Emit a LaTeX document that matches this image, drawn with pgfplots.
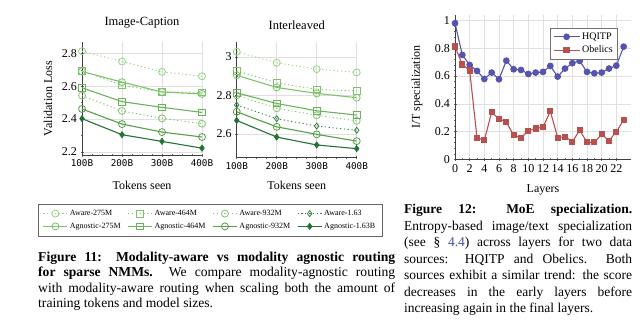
\documentclass[border=0pt]{standalone}
\usepackage{fontspec}
\setmainfont{Liberation Serif}
\setmonofont{DejaVu Sans Mono}
\usepackage{pgfplots}
\pgfplotsset{compat=1.18}
\definecolor{awA}{RGB}{150,210,130}
\definecolor{agA}{RGB}{125,195,105}
\definecolor{awB}{RGB}{125,195,105}
\definecolor{agB}{RGB}{105,180,90}
\definecolor{awC}{RGB}{130,195,110}
\definecolor{agC}{RGB}{85,160,70}
\definecolor{awD}{RGB}{55,130,70}
\definecolor{agD}{RGB}{35,115,55}
\definecolor{hq}{RGB}{85,85,175}
\definecolor{ob}{RGB}{185,80,80}
\definecolor{linkblue}{RGB}{70,80,150}
\pgfplotsset{
  base/.style={
    scale only axis,
    axis lines=left,
    axis line style={-, line width=0.5pt, black!75},
    grid=major,
    grid style={black!12, line width=0.4pt},
    tick style={black!60, line width=0.4pt},
    major tick length=3pt, minor tick length=2pt,
    tick label style={font=\fontsize{12}{12}\selectfont},
    label style={font=\fontsize{12}{12}\selectfont},
    title style={font=\fontsize{12.5}{12.5}\selectfont},
    /pgf/number format/assume math mode=true,
    clip=false,
  },
  loss/.style={
    base,
    xmin=100, xmax=400,
    xtick={100,200,300,400},
    xticklabels={100B,200B,300B,400B},
    xticklabel style={font=\ttfamily\fontsize{9.3}{9.3}\selectfont},
    minor x tick num=3, minor y tick num=1,
    width=120pt,
  },
  aw/.style={dash pattern=on 1.2pt off 2.6pt, line width=0.9pt, mark options={solid, line width=0.8pt}},
  ag/.style={solid, line width=1.1pt, mark options={solid, line width=0.8pt}},
}
\begin{document}
\begin{tikzpicture}
\path[use as bounding box] (0,0) rectangle (640pt,-333pt);

% ---------------- Image-Caption
\begin{axis}[loss,
  at={(82pt,-155pt)}, anchor=south west, height=113pt,
  ymin=2.18, ymax=2.87, ytick={2.2,2.4,2.6,2.8},
  title={Image-Caption}, ylabel={Validation Loss}, xlabel={Tokens seen},
  title style={at={(axis description cs:0.5,1.115)}, anchor=center},
  ylabel style={at={(axis description cs:-0.283,0.5)}, anchor=center},
  xlabel style={at={(axis description cs:0.5,-0.265)}, anchor=center},
]
\addplot[aw, color=awA, mark=o, mark size=3.5pt] coordinates {(100,2.814)(200,2.751)(300,2.688)(400,2.661)};
\addplot[aw, color=awB, mark=square, mark size=3.3pt] coordinates {(100,2.695)(200,2.606)(300,2.565)(400,2.563)};
\addplot[aw, color=awC, mark=o, mark size=3.5pt] coordinates {(100,2.543)(200,2.449)(300,2.404)(400,2.371)};
\addplot[ag, color=agA, mark=o, mark size=3.5pt] coordinates {(100,2.690)(200,2.625)(300,2.565)(400,2.553)};
\addplot[ag, color=agB, mark=square, mark size=3.3pt] coordinates {(100,2.590)(200,2.506)(300,2.471)(400,2.440)};
\addplot[ag, color=agC, mark=o, mark size=3.5pt] coordinates {(100,2.461)(200,2.369)(300,2.320)(400,2.290)};
\addplot[ag, color=agD, mark=diamond*, mark size=3pt] coordinates {(100,2.402)(200,2.304)(300,2.263)(400,2.222)};
\end{axis}

% ---------------- Interleaved
\begin{axis}[loss,
  at={(236.7pt,-157.7pt)}, anchor=south west, height=116pt,
  ymin=2.477, ymax=3.078, ytick={2.6,2.8,3},
  title={Interleaved}, xlabel={Tokens seen},
  title style={at={(axis description cs:0.5,1.092)}, anchor=center},
  xlabel style={at={(axis description cs:0.5,-0.235)}, anchor=center},
  legend columns=4,
  legend cell align=left,
  legend image code/.code={\draw[mark repeat=2,mark phase=2] plot coordinates {(0pt,0pt) (12pt,0pt) (24pt,0pt)};},
  legend style={at={(axis description cs:-0.2225,-0.537)}, anchor=center,
    font=\fontsize{8}{9}\selectfont, draw=black!60, line width=0.5pt,
    inner xsep=5pt, inner ysep=4pt, row sep=2pt,
    /tikz/every even column/.append style={column sep=5pt}},
]
\addplot[aw, color=awA, mark=o, mark size=3.5pt] coordinates {(100,3.026)(200,2.969)(300,2.936)(400,2.919)};
\addlegendentry{Aware-275M}
\addplot[aw, color=awB, mark=square, mark size=3.3pt] coordinates {(100,2.927)(200,2.865)(300,2.831)(400,2.822)};
\addlegendentry{Aware-464M}
\addplot[aw, color=awC, mark=o, mark size=3.5pt] coordinates {(100,2.800)(200,2.733)(300,2.697)(400,2.668)};
\addlegendentry{Aware-932M}
\addplot[aw, color=awD, mark=diamond, mark size=3pt] coordinates {(100,2.750)(200,2.679)(300,2.641)(400,2.619)};
\addlegendentry{Aware-1.63}
\addplot[ag, color=agA, mark=o, mark size=3.5pt] coordinates {(100,2.904)(200,2.841)(300,2.810)(400,2.788)};
\addlegendentry{Agnostic-275M}
\addplot[ag, color=agB, mark=square, mark size=3.3pt] coordinates {(100,2.813)(200,2.758)(300,2.720)(400,2.698)};
\addlegendentry{Agnostic-464M}
\addplot[ag, color=agC, mark=o, mark size=3.5pt] coordinates {(100,2.715)(200,2.637)(300,2.598)(400,2.563)};
\addlegendentry{Agnostic-932M}
\addplot[ag, color=agD, mark=diamond*, mark size=3pt] coordinates {(100,2.670)(200,2.584)(300,2.543)(400,2.524)};
\addlegendentry{Agnostic-1.63B}
\end{axis}

% ---------------- MoE specialization
\begin{axis}[base,
  at={(455pt,-159.3pt)}, anchor=south west, width=176pt, height=144.3pt,
  xmin=0, xmax=24, ymin=0, ymax=1.04,
  xtick={0,2,4,6,8,10,12,14,16,18,20,22}, minor x tick num=1,
  ytick={0,0.2,0.4,0.6,0.8,1}, minor y tick num=4,
  ylabel={I/T specialization}, xlabel={Layers},
  ylabel style={at={(axis description cs:-0.216,0.5)}, anchor=center},
  xlabel style={at={(axis description cs:0.5,-0.213)}, anchor=center},
  legend cell align=left,
  legend image code/.code={\draw[mark repeat=2,mark phase=2] plot coordinates {(0pt,0pt) (13pt,0pt) (26pt,0pt)};},
  legend style={at={(axis description cs:0.926,0.91)}, anchor=north east,
    font=\fontsize{10}{11}\selectfont, draw=black!55, line width=0.5pt,
    inner xsep=3pt, inner ysep=2.5pt, row sep=1pt},
]
\addplot[color=hq, line width=1.1pt, mark=*, mark size=2.8pt] coordinates {
(0,0.981)(1,0.752)(2,0.680)(3,0.637)(4,0.579)(5,0.625)(6,0.577)(7,0.711)(8,0.649)(9,0.644)(10,0.615)(11,0.625)
(12,0.630)(13,0.673)(14,0.596)(15,0.654)(16,0.693)(17,0.709)(18,0.630)(19,0.620)(20,0.625)(21,0.654)(22,0.675)(23,0.812)};
\addlegendentry{HQITP}
\addplot[color=ob, line width=1.1pt, mark=square*, mark size=2.6pt] coordinates {
(0,0.812)(1,0.683)(2,0.640)(3,0.156)(4,0.137)(5,0.339)(6,0.291)(7,0.269)(8,0.173)(9,0.154)(10,0.206)(11,0.221)
(12,0.233)(13,0.346)(14,0.156)(15,0.163)(16,0.127)(17,0.209)(18,0.123)(19,0.123)(20,0.180)(21,0.134)(22,0.199)(23,0.284)};
\addlegendentry{Obelics}
\end{axis}

% ---------------- Captions
\node[anchor=north west, inner sep=0pt, text width=357pt, align=justify,
  font=\fontsize{13.6}{15.6}\selectfont] at (38pt,-251.5pt)
{\textbf{Figure 11: Modality-aware vs modality agnostic routing\linebreak for sparse NMMs.}\ \ We compare modality-agnostic routing\linebreak with modality-aware routing when scaling both the amount of\linebreak training tokens and model sizes.};

\node[anchor=north west, inner sep=0pt, text width=228pt, align=justify,
  font=\fontsize{13.5}{16.5}\selectfont] at (404pt,-204pt)
{\textbf{Figure 12: MoE specialization.}\linebreak Entropy-based image/text specialization\linebreak (see § {\color{linkblue}4.4}) across layers for two data\linebreak sources: HQITP and Obelics.\ \ Both\linebreak sources exhibit a similar trend: the score\linebreak decreases in the early layers before\linebreak increasing again in the final layers.};
\end{tikzpicture}
\end{document}
